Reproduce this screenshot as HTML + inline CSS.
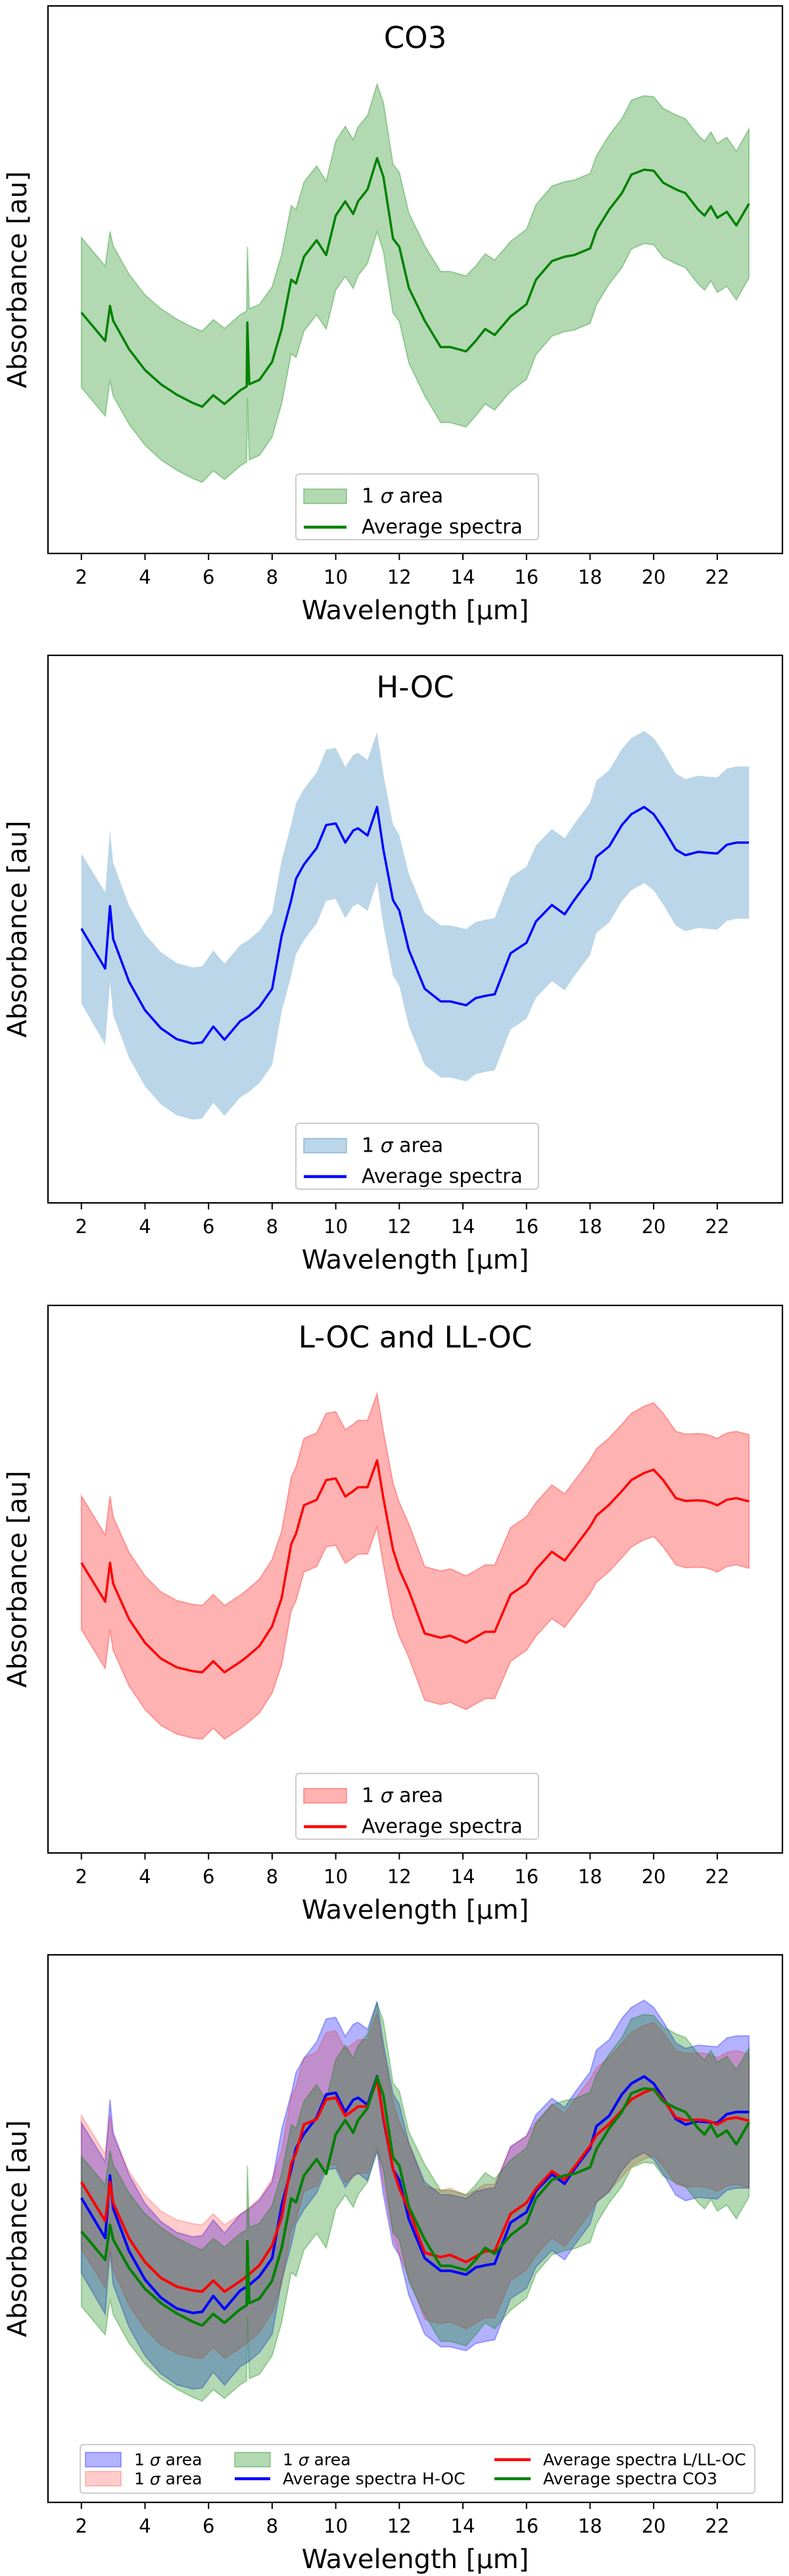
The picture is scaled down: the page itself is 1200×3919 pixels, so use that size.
<!DOCTYPE html>
<html>
<head>
<meta charset="utf-8">
<style>
  html,body{margin:0;padding:0;background:#fff;}
  svg{display:block;}
  text{font-family:"DejaVu Sans","Liberation Sans",sans-serif;fill:#000;}
</style>
</head>
<body>
<svg id="fig" xmlns="http://www.w3.org/2000/svg" width="1200" height="3919" viewBox="0 0 1200 3919"></svg>
<script>
// ---- data ----
const wavelengths = [2.0,2.75,2.9,3.0,3.5,4,4.5,5,5.5,5.8,6.15,6.5,7.0,7.2,7.22,7.28,7.6,8,8.3,8.6,8.75,9.0,9.4,9.7,10.0,10.3,10.55,10.7,11.0,11.3,11.5,11.8,12.0,12.3,12.8,13.3,13.6,14.1,14.4,14.7,15.0,15.5,16.0,16.3,16.8,17.2,17.5,18.0,18.2,18.6,19.0,19.3,19.7,20.0,20.3,20.7,21.0,21.4,21.6,21.8,22.0,22.3,22.6,23.0];
const co3Mean = [49.5,44.3,50.7,48.0,42.8,39.0,36.4,34.5,33.0,32.3,34.4,32.8,35.3,36.0,47.7,36.4,37.2,40.5,46.5,55.5,54.8,59.7,62.7,60.0,67.2,69.8,67.5,69.8,72.0,77.7,74.3,63.0,61.5,54.0,48.0,43.2,43.2,42.4,44.3,46.5,45.4,48.8,51.0,55.5,58.9,59.7,60.0,61.2,64.5,68.3,71.3,74.7,75.6,75.4,73.2,72.0,71.3,68.3,67.2,68.9,66.8,67.9,65.4,69.4];
const co3Sigma = [13.7,13.7,13.6,13.7,13.7,13.7,13.8,13.8,13.8,13.8,13.8,13.8,13.8,13.8,13.8,13.8,13.8,13.7,13.6,13.5,13.5,13.6,13.6,13.5,13.6,13.7,13.6,13.6,13.5,13.5,13.6,13.6,13.6,13.7,13.7,13.8,13.8,13.8,13.7,13.7,13.7,13.7,13.7,13.7,13.7,13.7,13.7,13.7,13.6,13.6,13.6,13.6,13.5,13.5,13.6,13.6,13.6,13.6,13.6,13.6,13.6,13.6,13.6,13.6];
const hocMean = [55.6,48.3,59.7,53.7,45.9,40.7,37.4,35.4,34.6,34.8,37.7,35.3,38.7,39.4,39.5,39.7,41.3,44.6,54.3,60.8,64.7,67.3,70.3,74.5,74.8,71.3,73.5,73.9,72.6,77.8,70.0,60.8,58.9,51.7,44.6,42.3,42.3,41.6,42.9,43.3,43.6,51.1,53.0,56.9,59.9,58.2,60.8,64.7,68.7,70.6,74.5,76.5,77.8,76.5,73.9,70.0,69.0,69.6,69.5,69.4,69.3,70.9,71.3,71.3];
const hocSigma = [13.7,13.9,13.9,13.9,13.9,13.9,13.9,13.9,13.9,13.9,13.9,13.9,13.9,13.9,13.9,13.9,13.9,13.9,13.8,13.8,13.8,13.8,13.8,13.8,13.8,13.8,13.8,13.8,13.8,13.7,13.8,13.8,13.8,13.9,13.9,13.9,13.9,13.9,13.9,13.9,13.9,13.9,13.9,13.9,13.9,13.9,13.9,13.9,13.9,13.9,13.9,13.9,13.9,13.9,13.9,13.9,13.9,13.9,13.9,13.9,13.9,13.9,13.9,13.9];
const locMean = [58.5,51.4,58.5,54.7,48.2,43.9,41.0,39.4,38.7,38.5,40.5,38.5,40.4,41.3,41.4,41.7,43.3,46.9,52.1,61.9,63.8,69.0,70.0,73.6,73.9,70.6,71.6,72.3,72.3,77.2,70.3,60.9,57.3,53.4,45.6,44.8,45.2,43.9,44.9,45.9,45.9,52.7,54.7,57.3,60.5,58.9,61.2,65.1,67.1,69.1,71.6,73.6,74.9,75.5,73.6,70.3,69.8,69.9,69.8,69.5,69.0,70.0,70.3,69.7];
const locSigma = [12.2,12.2,12.2,12.2,12.2,12.2,12.2,12.2,12.2,12.2,12.2,12.2,12.2,12.2,12.2,12.2,12.2,12.2,12.2,12.2,12.2,12.2,12.2,12.2,12.2,12.2,12.2,12.2,12.2,12.2,12.2,12.2,12.2,12.2,12.2,12.2,12.2,12.2,12.2,12.2,12.2,12.2,12.2,12.2,12.2,12.2,12.2,12.2,12.2,12.2,12.2,12.2,12.2,12.2,12.2,12.2,12.2,12.2,12.2,12.2,12.2,12.2,12.2,12.2];
const xTicks = [2,4,6,8,10,12,14,16,18,20,22];
const panelTitles = ["CO3","H-OC","L-OC and LL-OC",""];

// ---- layout ----
const NS = "http://www.w3.org/2000/svg";
const svg = document.getElementById("fig");
const AX_L = 73, AX_R = 1190, AX_H = 833;
const XMIN = 0.95, XMAX = 24.05;
const panelTops = [9, 997, 1986, 2974];

function mk(tag, attrs, parent) {
  const e = document.createElementNS(NS, tag);
  for (const k in attrs) e.setAttribute(k, attrs[k]);
  (parent || svg).appendChild(e);
  return e;
}
function xScale(w) { return AX_L + (w - XMIN) / (XMAX - XMIN) * (AX_R - AX_L); }
function yScaleFor(top, ylim) {
  return v => top + (ylim[1] - v) / (ylim[1] - ylim[0]) * AX_H;
}

function drawBand(g, ys, mean, sigma, color, alpha, edge, name) {
  let d = "";
  for (let i = 0; i < wavelengths.length; i++) {
    d += (i ? "L" : "M") + xScale(wavelengths[i]).toFixed(1) + "," + ys(mean[i] + sigma[i]).toFixed(1);
  }
  for (let i = wavelengths.length - 1; i >= 0; i--) {
    d += "L" + xScale(wavelengths[i]).toFixed(1) + "," + ys(mean[i] - sigma[i]).toFixed(1);
  }
  d += "Z";
  const p = mk("path", {d: d, fill: color, "fill-opacity": alpha, stroke: edge ? color : "none", "stroke-opacity": alpha, "stroke-width": 2}, g);
  
  
}
function drawLine(g, ys, mean, color, width, name) {
  let d = "";
  for (let i = 0; i < wavelengths.length; i++) {
    d += (i ? "L" : "M") + xScale(wavelengths[i]).toFixed(1) + "," + ys(mean[i]).toFixed(1);
  }
  const p = mk("path", {d: d, fill: "none", stroke: color, "stroke-width": width, "stroke-linejoin": "round"}, g);
  
  
}

function drawAxes(g, top, title) {
  const bottom = top + AX_H;
  const cx = (AX_L + AX_R) / 2;
  for (const t of xTicks) {
    const x = xScale(t);
    const tk = mk("line", {x1: x, x2: x, y1: bottom, y2: bottom + 10, stroke: "#000", "stroke-width": 2}, g);
    
    
    const tl = mk("text", {x: x, y: bottom + 46, "font-size": 29, "text-anchor": "middle"}, g);
    tl.textContent = t;
    
    
  }
  const fr = mk("rect", {x: AX_L, y: top, width: AX_R - AX_L, height: AX_H, fill: "none", stroke: "#000", "stroke-width": 2.2}, g);
  
  
  const xl = mk("text", {x: cx, y: bottom + 100, "font-size": 40, "text-anchor": "middle"}, g);
  xl.textContent = "Wavelength [µm]";
  
  
  const cy = top + AX_H / 2;
  const yl = mk("text", {x: 27, y: cy, "font-size": 40, "text-anchor": "middle", "dominant-baseline": "central", transform: "rotate(-90 27 " + cy + ")"}, g);
  yl.textContent = "Absorbance [au]";
  
  
  if (title) {
    const tt = mk("text", {x: cx, y: top + 64, "font-size": 45, "text-anchor": "middle"}, g);
    tt.textContent = title;
    
    
  }
}

function legendBox(g, x, y, w, h) {
  const r = mk("rect", {x: x, y: y, width: w, height: h, rx: 5, fill: "#fff", "fill-opacity": 0.8, stroke: "#ccc", "stroke-width": 2}, g);
  
  
}
function legendPatch(g, x, y, w, color, alpha, label, fs, tx) {
  const r = mk("rect", {x: x, y: y - 11, width: w, height: 22, fill: color, "fill-opacity": alpha, stroke: color, "stroke-opacity": alpha, "stroke-width": 2}, g);
  
  
  const t = mk("text", {x: tx, y: y, "font-size": fs, "dominant-baseline": "central"}, g);
  t.innerHTML = '1 <tspan font-style="italic">σ</tspan> area';
  
  
}
function legendLine(g, x, y, w, color, label, fs, tx) {
  const l = mk("line", {x1: x, x2: x + w, y1: y, y2: y, stroke: color, "stroke-width": 4.5}, g);
  
  
  const t = mk("text", {x: tx, y: y, "font-size": fs, "dominant-baseline": "central"}, g);
  t.textContent = label;
  
  
}

const singles = [
  {mean: co3Mean, sigma: co3Sigma, fill: "#008000", edge: true, line: "#008000", name: "co3"},
  {mean: hocMean, sigma: hocSigma, fill: "#1f77b4", edge: false, line: "#0000ff", name: "h-oc"},
  {mean: locMean, sigma: locSigma, fill: "#ff0000", edge: true, line: "#ff0000", name: "l-oc"}
];

singles.forEach((s, i) => {
  const top = panelTops[i];
  const g = mk("g", {});
  
  
  const ys = yScaleFor(top, [5.5, 105.5]);
  drawBand(g, ys, s.mean, s.sigma, s.fill, 0.3, s.edge, 'sigma-band-' + s.name);
  drawLine(g, ys, s.mean, s.line, 3.5, 'mean-line-' + s.name);
  drawAxes(g, top, panelTitles[i]);
  const lg = mk("g", {}, g);
  
  
  legendBox(lg, 450, top + 712, 369, 100);
  legendPatch(lg, 462, top + 746, 65, s.fill, 0.3, "", 30, 550);
  legendLine(lg, 462, top + 793, 65, s.line, "Average spectra", 30, 550);
});

// combined panel
(function () {
  const top = panelTops[3];
  const g = mk("g", {});
  
  
  const ys = yScaleFor(top, [0, 100]);
  drawBand(g, ys, hocMean, hocSigma, "#0000ff", 0.3, true, 'sigma-band-h-oc');
  drawBand(g, ys, locMean, locSigma, "#ff0000", 0.2, true, 'sigma-band-l-oc');
  drawBand(g, ys, co3Mean, co3Sigma, "#008000", 0.3, true, 'sigma-band-co3');
  drawLine(g, ys, hocMean, "#0000ff", 4, 'mean-line-h-oc');
  drawLine(g, ys, locMean, "#ff0000", 4, 'mean-line-l-oc');
  drawLine(g, ys, co3Mean, "#008000", 4, 'mean-line-co3');
  drawAxes(g, top, "");
  const lg = mk("g", {}, g);
  
  
  legendBox(lg, 122, top + 745, 1026, 74);
  const r1 = top + 768, r2 = top + 797;
  legendPatch(lg, 130, r1, 54, "#0000ff", 0.3, "", 25, 204);
  legendPatch(lg, 130, r2, 54, "#ff0000", 0.2, "", 25, 204);
  legendPatch(lg, 357, r1, 54, "#008000", 0.3, "", 25, 430);
  legendLine(lg, 357, r2, 54, "#0000ff", "Average spectra H-OC", 25, 430);
  legendLine(lg, 752, r1, 55, "#ff0000", "Average spectra L/LL-OC", 25, 826);
  legendLine(lg, 752, r2, 55, "#008000", "Average spectra CO3", 25, 826);
})();
</script>
</body>
</html>
